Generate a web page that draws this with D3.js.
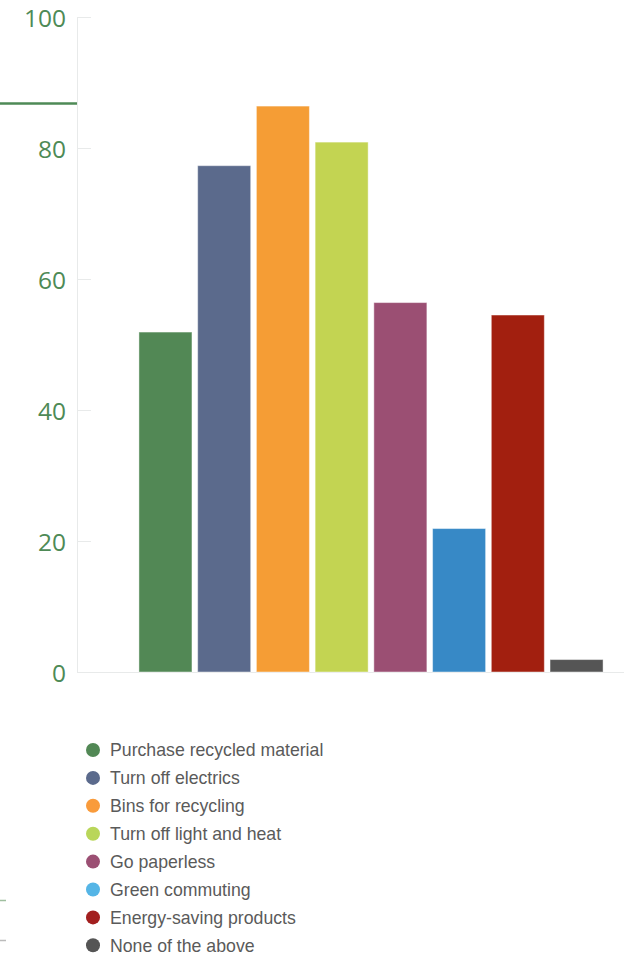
<!DOCTYPE html>
<html>
<head>
<meta charset="utf-8">
<script src="https://cdn.jsdelivr.net/npm/d3@7"></script>
<style>
  html, body { margin: 0; padding: 0; background: #fff; }
  svg { display: block; }
</style>
</head>
<body>
<svg id="chart" width="629" height="957"></svg>
<script>
// Share of respondents taking each green action (%)
const categories = [
  "Purchase recycled material",
  "Turn off electrics",
  "Bins for recycling",
  "Turn off light and heat",
  "Go paperless",
  "Green commuting",
  "Energy-saving products",
  "None of the above"
];
const values = [51.9, 77.3, 86.4, 80.9, 56.4, 21.9, 54.5, 1.9];
const barColors = ["#528855", "#5b6a8c", "#f59d35", "#c3d452", "#9b4f73", "#3789c6", "#a21f0f", "#555555"];
const legendColors = ["#528855", "#5b6a8c", "#f99b3b", "#b9d65a", "#9b4f73", "#55b5e6", "#a21f1f", "#555555"];
const yTicks = [0, 20, 40, 60, 80, 100];

const svg = d3.select("#chart");

const axisX = 77, plotRight = 624, plotTop = 17, plotBottom = 672;

const y = d3.scaleLinear().domain([0, 100]).range([plotBottom, plotTop]);
const x = d3.scaleBand().domain(categories).range([136, 606])
  .paddingInner(0.097).paddingOuter(0.05);

// Short tick marks and axis lines
svg.append("g").selectAll("line.tick").data(yTicks).join("line")
  .attr("x1", axisX).attr("x2", axisX + 14)
  .attr("y1", d => y(d) + 0.5).attr("y2", d => y(d) + 0.5)
  .attr("stroke", "#e8eaea").attr("stroke-width", 1);

svg.append("line")
  .attr("x1", axisX + 0.5).attr("x2", axisX + 0.5)
  .attr("y1", plotTop).attr("y2", plotBottom)
  .attr("stroke", "#e8eaea");
svg.append("line")
  .attr("x1", axisX).attr("x2", plotRight)
  .attr("y1", plotBottom + 0.5).attr("y2", plotBottom + 0.5)
  .attr("stroke", "#e8eaea");

// Tick labels
svg.append("g").selectAll("text").data(yTicks).join("text")
  .attr("x", 66).attr("y", d => y(d) + 1)
  .attr("dy", "0.36em")
  .attr("text-anchor", "end")
  .attr("font-family", "'Open Sans', 'Noto Sans', sans-serif")
  .attr("font-size", 24.5)
  .attr("fill", "#4e8a56")
  .text(d => d);

// Accent rule on the left edge
svg.append("line")
  .attr("x1", 0).attr("x2", axisX)
  .attr("y1", 103.5).attr("y2", 103.5)
  .attr("stroke", "#4e8a56").attr("stroke-width", 2.6);

// Bars
svg.append("g").selectAll("rect").data(categories).join("rect")
  .attr("x", d => x(d))
  .attr("y", (d, i) => y(values[i]))
  .attr("width", x.bandwidth())
  .attr("height", (d, i) => y(0) - y(values[i]))
  .attr("fill", (d, i) => barColors[i])
  .attr("stroke", "rgba(255,255,255,0.45)")
  .attr("stroke-width", 1);

// Legend
const legend = svg.append("g").selectAll("g").data(categories).join("g")
  .attr("transform", (d, i) => `translate(93, ${750 + i * 27.9})`);
legend.append("circle").attr("r", 7).attr("fill", (d, i) => legendColors[i]);
legend.append("text")
  .attr("x", 17).attr("dy", "0.35em")
  .attr("font-family", "'Liberation Sans', Arial, sans-serif")
  .attr("font-size", 17.7)
  .attr("fill", "#5a5a5a")
  .text(d => d);

// Small edge markers beside the legend
svg.append("line").attr("x1", 0).attr("x2", 6).attr("y1", 900.5).attr("y2", 900.5)
  .attr("stroke", "#9fbf9f").attr("stroke-width", 1.5);
svg.append("line").attr("x1", 0).attr("x2", 6).attr("y1", 940.5).attr("y2", 940.5)
  .attr("stroke", "#bbbbbb").attr("stroke-width", 1.5);
</script>
</body>
</html>
